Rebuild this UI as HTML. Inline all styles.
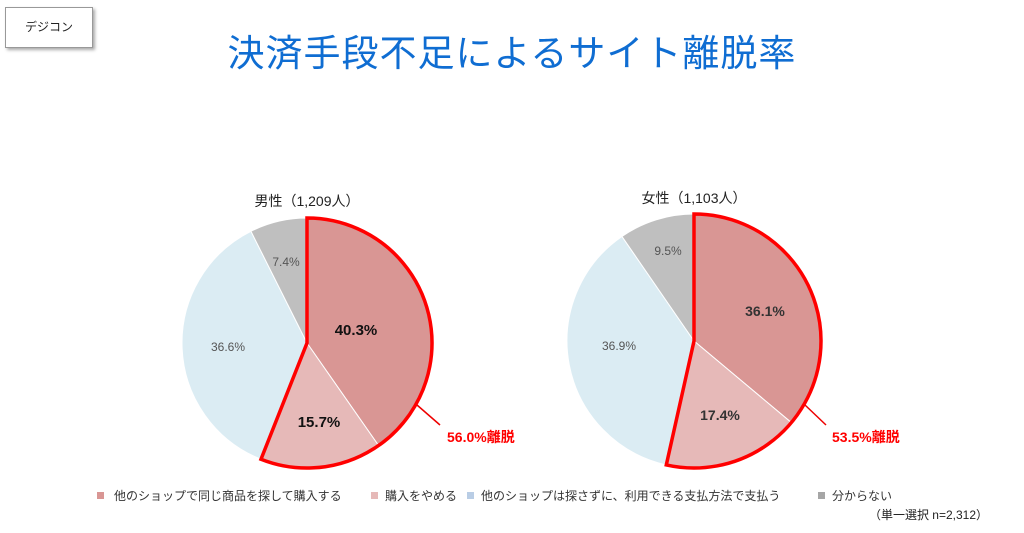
<!DOCTYPE html>
<html><head><meta charset="utf-8"><style>
body{margin:0;width:1024px;height:533px;background:#fff;position:relative;overflow:hidden;font-family:"Liberation Sans","Noto Sans CJK JP",sans-serif;}
.box{position:absolute;left:5px;top:7px;width:86px;height:39px;border:1px solid #999;box-shadow:2px 2px 3px #aaa;font-size:12px;line-height:39px;text-align:center;color:#222;background:#fff}
.title{position:absolute;left:0;width:1024px;top:23px;text-align:center;font-size:37px;color:#0f6dd2;letter-spacing:1px}
svg{position:absolute;left:0;top:0}
</style></head><body>
<div class="box">デジコン</div>
<div class="title">決済手段不足によるサイト離脱率</div>
<svg width="1024" height="533" id="s" font-family="Liberation Sans, Noto Sans CJK JP, sans-serif">
<g id="pies"></g>
<text x="307" y="206" font-size="14" text-anchor="middle" fill="#222">男性（1,209人）</text>
<text x="694" y="203" font-size="14" text-anchor="middle" fill="#222">女性（1,103人）</text>
<text x="356" y="335" font-size="15" font-weight="bold" text-anchor="middle" fill="#111">40.3%</text>
<text x="319" y="427" font-size="15" font-weight="bold" text-anchor="middle" fill="#111">15.7%</text>
<text x="228" y="351" font-size="12" text-anchor="middle" fill="#555">36.6%</text>
<text x="286" y="266" font-size="12" text-anchor="middle" fill="#555">7.4%</text>
<text x="765" y="316" font-size="14" font-weight="bold" text-anchor="middle" fill="#333">36.1%</text>
<text x="720" y="420" font-size="14" font-weight="bold" text-anchor="middle" fill="#333">17.4%</text>
<text x="619" y="350" font-size="12" text-anchor="middle" fill="#555">36.9%</text>
<text x="668" y="255" font-size="12" text-anchor="middle" fill="#555">9.5%</text>
<line x1="417" y1="405" x2="440" y2="425" stroke="#e00" stroke-width="1.5"/>
<line x1="805" y1="405" x2="826" y2="425" stroke="#e00" stroke-width="1.5"/>
<text x="447" y="442" font-size="14" font-weight="bold" fill="#f00">56.0%離脱</text>
<text x="832" y="442" font-size="14" font-weight="bold" fill="#f00">53.5%離脱</text>
<g font-size="12" fill="#333">
<rect x="97" y="492" width="7" height="7" fill="#d99694"/><text x="114" y="500">他のショップで同じ商品を探して購入する</text>
<rect x="371" y="492" width="7" height="7" fill="#e6b9b8"/><text x="385" y="500">購入をやめる</text>
<rect x="467" y="492" width="7" height="7" fill="#b9cde5"/><text x="481" y="500">他のショップは探さずに、利用できる支払方法で支払う</text>
<rect x="818" y="492" width="7" height="7" fill="#a6a6a6"/><text x="832" y="500">分からない</text>
<text x="988" y="519" text-anchor="end" fill="#222">（単一選択 n=2,312）</text>
</g>
</svg>
<script>
function pt(cx,cy,r,d){var a=d*Math.PI/180;return [cx+r*Math.sin(a),cy-r*Math.cos(a)];}
function arc(cx,cy,r,a0,a1){var p=pt(cx,cy,r,a0),q=pt(cx,cy,r,a1);return "M"+cx+","+cy+"L"+p[0]+","+p[1]+"A"+r+","+r+" 0 "+((a1-a0)>180?1:0)+" 1 "+q[0]+","+q[1]+"Z";}
var cols=["#d99694","#e6b9b8","#dbecf3","#bfbfbf"],h="";
function pie(cx,cy,r,v){var a=0,ends=[];for(var i=0;i<4;i++){var b=a+v[i]*3.6;if(i==3)b=360;h+='<path d="'+arc(cx,cy,r,a,b)+'" fill="'+cols[i]+'" stroke="#fff" stroke-width="1"/>';ends.push(b);a=b;}
h+='<path d="'+arc(cx,cy,r,0,ends[1])+'" fill="none" stroke="#f00" stroke-width="3.5" stroke-linejoin="miter"/>';}
pie(307,343,125,[40.3,15.7,36.6,7.4]);
pie(694,341,127,[36.1,17.4,36.9,9.5]);
document.getElementById("pies").innerHTML=h;
</script>
</body></html>
